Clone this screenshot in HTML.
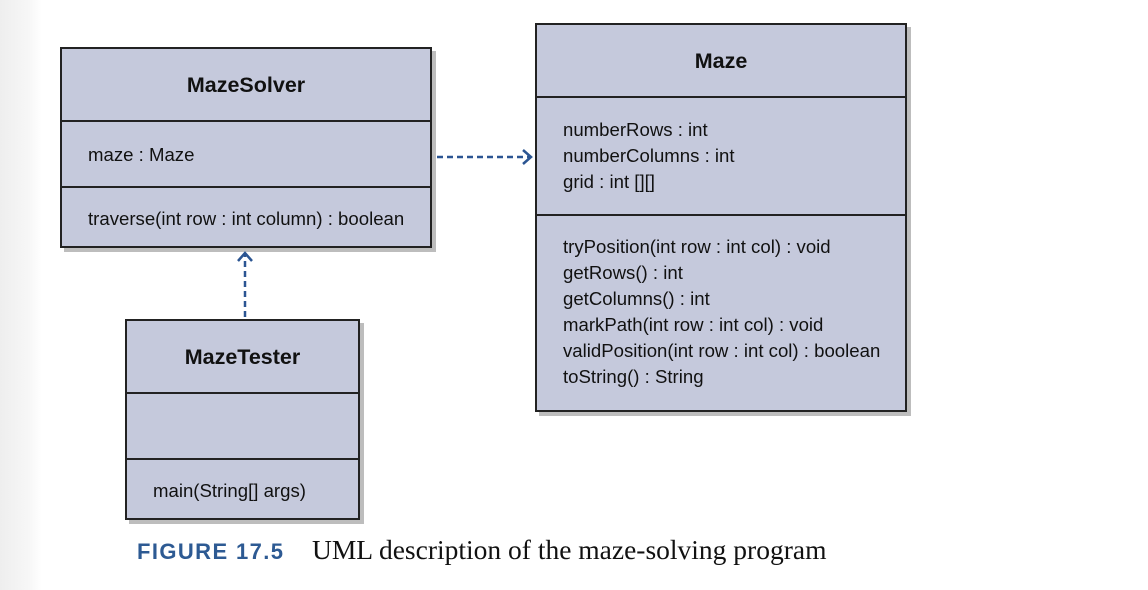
<!DOCTYPE html>
<html><head><meta charset="utf-8"><style>
body{margin:0;width:1148px;height:590px;overflow:hidden;background:#fff;position:relative;font-family:"Liberation Sans",Arial,sans-serif}
.strip{position:absolute;left:0;top:0;width:42px;height:590px;background:linear-gradient(to right,#eeeeee,#f7f7f7 70%,#fff)}
.box{position:absolute;background:#c5c9dc;border:2px solid #222;box-shadow:4px 4px 0 #bdbdbd;box-sizing:border-box}
.sec{position:absolute;left:0;right:0;border-top:2px solid #222}
.title{position:absolute;left:0;right:0;text-align:center;font-weight:bold;font-size:21.5px;color:#111}
.t{position:absolute;font-size:18.6px;color:#111;line-height:26px;white-space:nowrap}
</style></head><body>
<div class="strip"></div>

<div class="box" style="left:60px;top:47px;width:372px;height:201px">
 <div class="title" style="top:24px">MazeSolver</div>
 <div class="sec" style="top:71px"></div>
 <div class="t" style="left:26px;top:93px">maze : Maze</div>
 <div class="sec" style="top:137px"></div>
 <div class="t" style="left:26px;top:157px">traverse(int row : int column) : boolean</div>
</div>

<div class="box" style="left:535px;top:23px;width:372px;height:389px">
 <div class="title" style="top:24px">Maze</div>
 <div class="sec" style="top:71px"></div>
 <div class="t" style="left:26px;top:92px">numberRows : int<br>numberColumns : int<br>grid : int [][]</div>
 <div class="sec" style="top:189px"></div>
 <div class="t" style="left:26px;top:209px">tryPosition(int row : int col) : void<br>getRows() : int<br>getColumns() : int<br>markPath(int row : int col) : void<br>validPosition(int row : int col) : boolean<br>toString() : String</div>
</div>

<div class="box" style="left:125px;top:319px;width:235px;height:201px">
 <div class="title" style="top:24px">MazeTester</div>
 <div class="sec" style="top:71px"></div>
 <div class="sec" style="top:137px"></div>
 <div class="t" style="left:26px;top:157px">main(String[] args)</div>
</div>

<svg width="1148" height="590" style="position:absolute;left:0;top:0">
 <g stroke="#2b5592" stroke-width="2.5" fill="none">
  <line x1="437" y1="157" x2="530" y2="157" stroke-dasharray="6,4"/>
  <polyline points="523,150 531,157 523,164"/>
  <line x1="245" y1="317" x2="245" y2="254" stroke-dasharray="6,4"/>
  <polyline points="238,261 245,253 252,261"/>
 </g>
</svg>

<div style="position:absolute;left:137px;top:539px;font-weight:bold;font-size:22px;letter-spacing:1.4px;color:#2d5a93">FIGURE 17.5</div>
<div style="position:absolute;left:312px;top:534px;font-family:'Liberation Serif',serif;font-size:27.5px;color:#111">UML description of the maze-solving program</div>
</body></html>
